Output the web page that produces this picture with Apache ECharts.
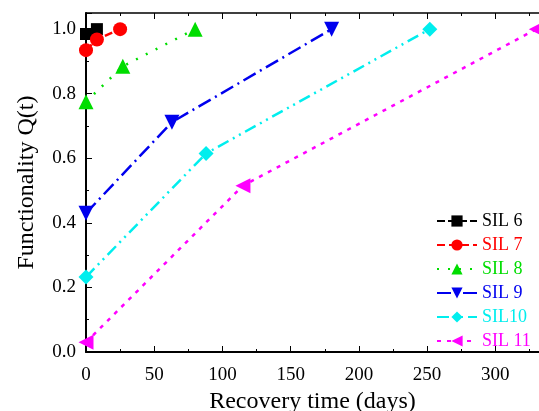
<!DOCTYPE html>
<html><head><meta charset="utf-8">
<script src="https://cdn.jsdelivr.net/npm/echarts@6/dist/echarts.min.js"></script>
<style>html,body{margin:0;padding:0;background:#fff}#c{width:539px;height:411px}</style>
</head><body><div id="c"></div>
<script>
const seriesNames = ['SIL 6','SIL 7','SIL 8','SIL 9','SIL10','SIL 11'];
const sil6 = [[0,0.985],[8,1.0]];
const sil7 = [[0,0.935],[8,0.968],[25,1.0]];
const sil8 = [[0,0.775],[27,0.885],[80,1.0]];
const sil9 = [[0,0.43],[63,0.712],[180,1.0]];
const sil10 = [[0,0.232],[88,0.615],[252,1.0]];
const sil11 = [[0,0.03],[115,0.515],[330,1.0]];
const xTicks = [0,50,100,150,200,250,300];
const yTicks = [0.0,0.2,0.4,0.6,0.8,1.0];

const colors = ['#000000','#ff0000','#00dd00','#0000ee','#00eeee','#ff00ff'];
const symbols = ['rect','circle','triangle','triangle','diamond','triangle'];
const rotates = [0,0,0,180,0,90];
const dashes = [[8,3],[8,4],[2,9],[14,5,2,5],[12,5,2,5,2,5],[4,6]];
const sizes = [12,14,15,15,15,15];
const datas = [sil6,sil7,sil8,sil9,sil10,sil11];

const font = 'Liberation Serif';
const chart = echarts.init(document.getElementById('c'));
chart.setOption({
  animation:false,
  grid:{left:86,right:0,top:13,bottom:59,containLabel:false,outerBoundsMode:'none'},
  xAxis:[{type:'value',min:0,max:332,interval:50,
    axisLine:{lineStyle:{color:'#000',width:2}},
    axisTick:{inside:true,length:6,lineStyle:{color:'#000'}},
    minorTick:{show:true,splitNumber:2,length:3,lineStyle:{color:'#000'}},
    splitLine:{show:false},
    axisLabel:{fontFamily:font,fontSize:19,color:'#000',margin:14,showMaxLabel:false,
      formatter:v=>xTicks.includes(v)?String(v):''},
    name:'Recovery time (days)',nameLocation:'middle',nameGap:35,
    nameTextStyle:{fontFamily:font,fontSize:24,color:'#000'}},
   {type:'value',position:'top',min:0,max:332,interval:50,
    axisLine:{show:true,lineStyle:{color:'#000',width:1.5}},
    axisTick:{inside:true,length:6,lineStyle:{color:'#000'}},
    minorTick:{show:true,splitNumber:2,length:3,lineStyle:{color:'#000'}},
    axisLabel:{show:false},splitLine:{show:false}}],
  yAxis:{type:'value',min:0,max:1.05,interval:0.2,
    axisLine:{show:true,lineStyle:{color:'#000',width:2}},
    axisTick:{inside:true,length:6,lineStyle:{color:'#000'}},
    minorTick:{show:true,splitNumber:2,length:3,lineStyle:{color:'#000'}},
    splitLine:{show:false},
    axisLabel:{fontFamily:font,fontSize:19,color:'#000',margin:10,
      formatter:v=>{const t=yTicks.find(x=>Math.abs(x-v)<1e-6);return t===undefined?'':t.toFixed(1);}},
    name:'Functionality Q(t)',nameLocation:'middle',nameGap:47,
    nameTextStyle:{fontFamily:font,fontSize:24,color:'#000'}},
  legend:{orient:'vertical',left:431,top:207,itemWidth:40,itemHeight:14,itemGap:6,
    textStyle:{fontFamily:font,fontSize:18},
    data:seriesNames.map((n,i)=>({name:n,textStyle:{color:colors[i]}}))},
  series:datas.map((d,i)=>({
    name:seriesNames[i],type:'line',data:d,
    symbol:symbols[i],symbolSize:sizes[i],symbolRotate:rotates[i],
    itemStyle:{color:colors[i]},
    lineStyle:{color:colors[i],width:2.5,type:dashes[i]},
    clip:false
  }))
});
</script></body></html>
